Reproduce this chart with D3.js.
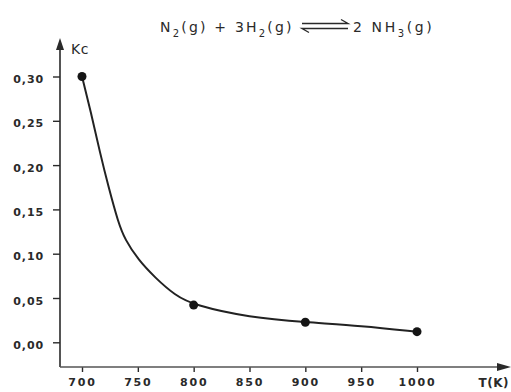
<!DOCTYPE html>
<html><head><meta charset="utf-8">
<script src="https://cdn.jsdelivr.net/npm/d3@7/dist/d3.min.js"></script>
<style>
html,body{margin:0;padding:0;background:#fff;}
svg{display:block;}
text{font-family:"DejaVu Sans",sans-serif;fill:#2a2a2a;}
</style></head>
<body>
<svg id="c" width="511" height="392"></svg>
<script>
// Data
const temperatures = [700, 800, 900, 1000];
const kcValues = [0.30, 0.042, 0.0226, 0.012];
// Hand-drawn curve (T, Kc)
const curveT  = [700, 708.7, 716.1, 723.6, 732.5, 738.5, 750.4, 765.4, 783.3, 800, 850, 900, 950, 1000];
const curveKc = [0.30, 0.256, 0.214, 0.176, 0.135, 0.116, 0.093, 0.073, 0.053, 0.042, 0.028, 0.0226, 0.0187, 0.012];
const xTicks = [700, 750, 800, 850, 900, 950, 1000];
const yTicks = [0, 0.05, 0.10, 0.15, 0.20, 0.25, 0.30];

const svg = d3.select("#c");
const x = d3.scaleLinear().domain([700, 1000]).range([82, 417]);
const y = d3.scaleLinear().domain([0, 0.30]).range([342.3, 76.5]);
const axisX0 = 60, axisY0 = 367;
const ink = "#2a2a2a";

// Y axis
const gy = svg.append("g").attr("transform", `translate(${axisX0},0)`)
  .call(d3.axisLeft(y).tickValues(yTicks).tickSize(7).tickPadding(9)
    .tickFormat(d => d3.format(".2f")(d).replace(".", ",")));
gy.select(".domain").remove();
gy.selectAll(".tick line").attr("stroke", ink).attr("stroke-width", 1.4);
gy.selectAll(".tick text").attr("font-size", 11).attr("letter-spacing", 0.9)
  .attr("dy", "0.55em").attr("fill", ink).attr("font-weight", "bold");

// X axis
const gx = svg.append("g").attr("transform", `translate(0,${axisY0})`)
  .call(d3.axisBottom(x).tickValues(xTicks).tickSize(5).tickPadding(6).tickFormat(d3.format("d")));
gx.select(".domain").remove();
gx.selectAll(".tick line").attr("stroke", ink).attr("stroke-width", 1.4);
gx.selectAll(".tick text").attr("font-size", 11).attr("letter-spacing", 1.8)
  .attr("fill", ink).attr("font-weight", "bold");

// Axis lines with arrows
svg.append("line").attr("x1", axisX0).attr("y1", axisY0).attr("x2", axisX0).attr("y2", 46)
  .attr("stroke", ink).attr("stroke-width", 1.6);
svg.append("path").attr("d", `M${axisX0},38 L${axisX0-4},50 L${axisX0+4},50 Z`).attr("fill", ink);
svg.append("line").attr("x1", axisX0).attr("y1", axisY0).attr("x2", 500).attr("y2", axisY0)
  .attr("stroke", "#555").attr("stroke-width", 1.6);
svg.append("path").attr("d", `M511,${axisY0} L497,${axisY0-4} L497,${axisY0+4} Z`).attr("fill", ink);

// Axis titles
svg.append("text").attr("x", 71).attr("y", 54).attr("font-size", 14).attr("letter-spacing", 0.5).text("Kc");
svg.append("text").attr("x", 509).attr("y", 387).attr("text-anchor", "end").attr("font-size", 12)
  .attr("font-weight", "bold").attr("letter-spacing", 0.5).text("T(K)");

// Curve
const pts = curveT.map((t, i) => [t, curveKc[i]]);
svg.append("path").datum(pts)
  .attr("d", d3.line().x(d => x(d[0])).y(d => y(d[1])).curve(d3.curveBasis))
  .attr("fill", "none").attr("stroke", "#222").attr("stroke-width", 2);

// Points
svg.selectAll("circle.pt").data(temperatures).enter().append("circle")
  .attr("cx", d => x(d)).attr("cy", (d, i) => y(kcValues[i])).attr("r", 4.5).attr("fill", "#151515");

// Title equation
const t1 = svg.append("text").attr("x", 160).attr("y", 32).attr("font-size", 14).attr("letter-spacing", 2.2);
t1.append("tspan").text("N");
t1.append("tspan").attr("font-size", 10).attr("dy", 5).text("2");
t1.append("tspan").attr("dy", -5).text("(g) + 3H");
t1.append("tspan").attr("font-size", 10).attr("dy", 5).text("2");
t1.append("tspan").attr("dy", -5).text("(g)");
const t2 = svg.append("text").attr("x", 353).attr("y", 32).attr("font-size", 14).attr("letter-spacing", 2.6);
t2.append("tspan").text("2 NH");
t2.append("tspan").attr("font-size", 10).attr("dy", 5).text("3");
t2.append("tspan").attr("dy", -5).text("(g)");
// Equilibrium harpoons
svg.append("path").attr("d", "M302,23.5 L348,23.5 L341,19.5").attr("fill", "none").attr("stroke", ink).attr("stroke-width", 1.4);
svg.append("path").attr("d", "M348,28.5 L302,28.5 L309,32.5").attr("fill", "none").attr("stroke", ink).attr("stroke-width", 1.4);
</script>
</body></html>
